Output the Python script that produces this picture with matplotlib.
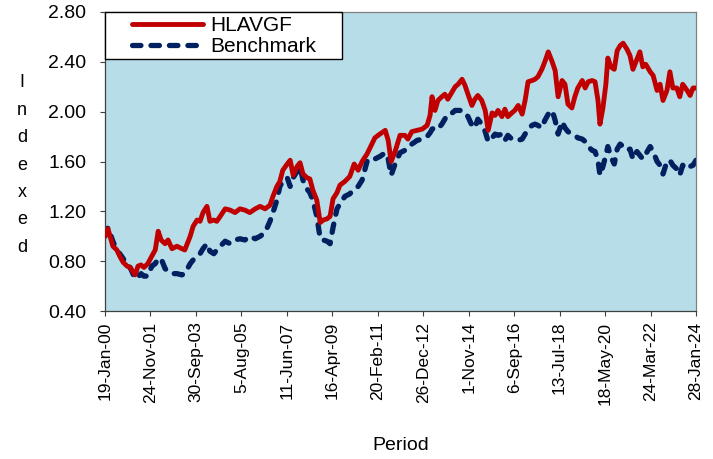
import matplotlib
matplotlib.use("Agg")
import matplotlib.pyplot as plt
from matplotlib.patches import Rectangle

plt.rcParams['font.family'] = ['Liberation Sans', 'DejaVu Sans']

period = [0, 6, 16, 24, 30, 37, 45, 51, 61, 67, 73, 79, 87, 95, 102, 108, 114, 122, 128, 136,
          146, 156, 162, 173, 179, 187, 193, 199, 207, 213, 221, 227, 234, 244, 254, 264, 274, 284, 294, 305,
          315, 325, 335, 341, 349, 355, 361, 370, 376, 382, 390, 396, 402, 410, 416, 422, 430, 437, 443, 451,
          457, 463, 471, 477, 487, 497, 506, 514, 522, 532, 542, 548, 558, 569, 575, 581, 589, 599, 609, 615,
          623, 634, 644, 654, 660, 664, 670, 676, 684, 690, 696, 705, 711, 717, 725, 731, 737, 745, 751, 757,
          765, 772, 778, 786, 792, 798, 806, 812, 818, 826, 832, 839, 847, 853, 859, 867, 873, 879, 887, 893,
          900, 908, 914, 920, 928, 934, 940, 948, 954, 960, 969, 975, 981, 989, 995, 1001, 1005, 1011, 1017, 1021,
          1027, 1034, 1040, 1046, 1052, 1060, 1066, 1072, 1080, 1086, 1092, 1098, 1107, 1113, 1121, 1127, 1133, 1141, 1147, 1153,
          1161, 1167, 1173, 1182, 1188, 1194, 1200]

hlavgf = [1.00, 1.06, 0.92, 0.89, 0.84, 0.79, 0.76, 0.75, 0.69, 0.76, 0.77, 0.75, 0.78, 0.84, 0.89, 1.04, 0.97, 0.94, 0.97, 0.90,
          0.92, 0.90, 0.89, 1.00, 1.08, 1.13, 1.12, 1.19, 1.24, 1.12, 1.13, 1.12, 1.16, 1.22, 1.21, 1.19, 1.22, 1.21, 1.19, 1.22,
          1.24, 1.22, 1.25, 1.32, 1.40, 1.44, 1.53, 1.58, 1.61, 1.49, 1.56, 1.59, 1.50, 1.47, 1.46, 1.37, 1.29, 1.11, 1.13, 1.14,
          1.16, 1.30, 1.35, 1.41, 1.44, 1.48, 1.58, 1.53, 1.60, 1.66, 1.74, 1.79, 1.82, 1.85, 1.77, 1.60, 1.68, 1.81, 1.81, 1.78,
          1.84, 1.85, 1.86, 1.89, 1.97, 2.12, 2.01, 2.09, 2.12, 2.14, 2.10, 2.16, 2.20, 2.22, 2.26, 2.21, 2.14, 2.05, 2.10, 2.13,
          2.09, 2.01, 1.85, 1.99, 1.97, 2.01, 1.96, 2.02, 1.96, 1.99, 2.01, 2.05, 1.98, 2.09, 2.24, 2.25, 2.26, 2.28, 2.34, 2.40,
          2.48, 2.40, 2.33, 2.12, 2.25, 2.22, 2.06, 2.03, 2.12, 2.19, 2.25, 2.19, 2.24, 2.25, 2.24, 2.09, 1.90, 2.03, 2.22, 2.43,
          2.36, 2.34, 2.49, 2.53, 2.55, 2.50, 2.45, 2.34, 2.42, 2.48, 2.36, 2.38, 2.32, 2.29, 2.17, 2.22, 2.09, 2.17, 2.32, 2.19,
          2.19, 2.12, 2.22, 2.17, 2.13, 2.19, 2.19]

benchmark = [1.00, 1.07, 0.96, 0.88, 0.86, 0.82, 0.76, 0.75, 0.66, 0.67, 0.70, 0.68, 0.68, 0.76, 0.78, 0.82, 0.82, 0.74, 0.72, 0.70,
             0.70, 0.69, 0.70, 0.78, 0.81, 0.84, 0.86, 0.90, 0.94, 0.88, 0.86, 0.89, 0.92, 0.96, 0.94, 0.97, 0.98, 0.97, 1.00, 0.98,
             1.00, 1.03, 1.12, 1.19, 1.29, 1.40, 1.44, 1.47, 1.40, 1.47, 1.52, 1.56, 1.45, 1.38, 1.35, 1.29, 1.16, 0.98, 0.97, 0.96,
             0.94, 1.07, 1.22, 1.26, 1.32, 1.34, 1.38, 1.40, 1.45, 1.60, 1.63, 1.62, 1.64, 1.67, 1.62, 1.49, 1.58, 1.67, 1.69, 1.72,
             1.74, 1.77, 1.78, 1.80, 1.83, 1.86, 1.87, 1.86, 1.90, 1.94, 1.98, 1.99, 2.01, 2.01, 2.01, 1.99, 1.96, 1.89, 1.87, 1.94,
             1.90, 1.84, 1.76, 1.79, 1.82, 1.81, 1.82, 1.77, 1.81, 1.78, 1.78, 1.77, 1.78, 1.82, 1.86, 1.89, 1.90, 1.89, 1.87, 1.93,
             1.98, 2.01, 1.93, 1.82, 1.92, 1.87, 1.84, 1.82, 1.81, 1.79, 1.78, 1.76, 1.72, 1.69, 1.68, 1.61, 1.49, 1.56, 1.65, 1.72,
             1.64, 1.58, 1.70, 1.74, 1.72, 1.69, 1.70, 1.62, 1.68, 1.65, 1.62, 1.66, 1.72, 1.68, 1.60, 1.57, 1.50, 1.60, 1.61, 1.57,
             1.54, 1.49, 1.57, 1.54, 1.56, 1.57, 1.61]

tick_labels = ['19-Jan-00', '24-Nov-01', '30-Sep-03', '5-Aug-05', '11-Jun-07', '16-Apr-09',
               '20-Feb-11', '26-Dec-12', '1-Nov-14', '6-Sep-16', '13-Jul-18', '18-May-20',
               '24-Mar-22', '28-Jan-24']
y_ticks = [0.40, 0.80, 1.20, 1.60, 2.00, 2.40, 2.80]

x_max = 1200
n_int = len(tick_labels) - 1
tick_pos = [i * x_max / n_int for i in range(len(tick_labels))]

W, H = 713, 459
fig = plt.figure(figsize=(W / 100, H / 100), dpi=100)
ax = fig.add_axes([105 / W, 1 - 311 / H, 591 / W, 299 / H])
ax.set_facecolor('#B7DEE8')

ax.plot(period, hlavgf, color='#C00000', lw=3.5, solid_capstyle='round',
        solid_joinstyle='round', label='HLAVGF', zorder=3)
ax.plot(period, benchmark, color='#002060', lw=3.8, linestyle=(0, (1.6, 1.9)),
        dash_capstyle='round', label='Benchmark', zorder=2)

ax.set_xlim(0, x_max)
ax.set_ylim(0.4, 2.8)
ax.set_yticks(y_ticks)
ax.set_yticklabels([f'{v:.2f}' for v in y_ticks], fontsize=14)
ax.set_xticks(tick_pos)
ax.set_xticklabels(tick_labels, rotation=90, fontsize=12.5)
ax.tick_params(axis='both', direction='out', length=3.6, width=0.8, color='#404040')
ax.tick_params(axis='y', pad=10)
ax.tick_params(axis='x', pad=4)
for name, s in ax.spines.items():
    s.set_color('#404040' if name in ('left', 'bottom') else '#808080')
    s.set_linewidth(0.9)

fig.text(401 / W, 1 - 446 / H, 'Period', ha='center', va='center', fontsize=14)
fig.text(22 / W, 1 - 165 / H, 'I\nn\nd\ne\nx\ne\nd', ha='center', va='center',
         fontsize=13, linespacing=1.8)

# legend box
ax.add_patch(Rectangle((0, (311 - 59) / 299), (342 - 105) / 591, (59 - 12) / 299,
                       transform=ax.transAxes, facecolor='white', edgecolor='black',
                       lw=1.0, zorder=4, clip_on=False))
leg = ax.legend(loc='center left', bbox_to_anchor=((132 - 105) / 591, (311 - 36) / 299),
                fontsize=15, frameon=False, handlelength=3.4, handletextpad=0.38,
                borderpad=0.0, labelspacing=0.08, borderaxespad=0.0)
leg.set_zorder(5)

fig.savefig('out.png', dpi=100)
